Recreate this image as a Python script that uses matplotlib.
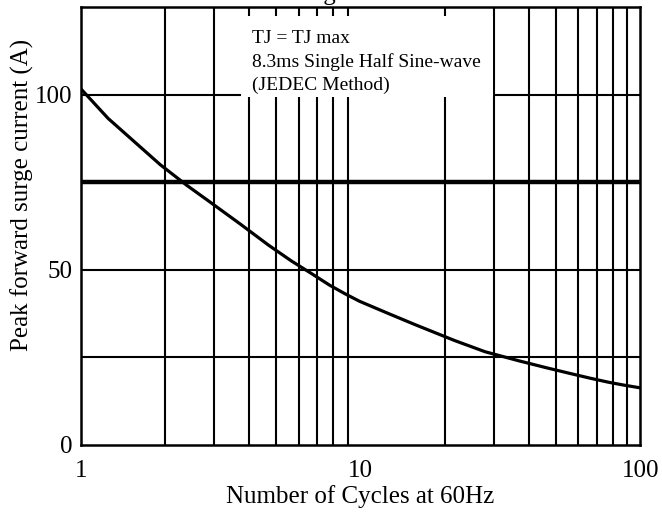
import numpy as np
import matplotlib.pyplot as plt
from matplotlib.patches import Rectangle

# Surge current curve
cycles = [1, 1.25, 1.92, 2.39, 2.84, 3.72, 4.69, 5.66, 6.68, 7.75, 8.82, 9.92,
          12.5, 15.6, 18.8, 21.7, 27.9, 36.9, 46.4, 56.2, 66.7, 77.1, 87.2, 100]
surge_current = [101.6, 93.2, 80.0, 74.1, 69.8, 63.0, 57.0, 52.5, 48.9, 45.6, 43.1, 41.0,
                 37.6, 34.4, 31.8, 29.8, 26.6, 24.0, 22.0, 20.4, 19.0, 17.9, 17.1, 16.3]

x_ticks = [1, 10, 100]
y_ticks = [0, 50, 100]
y_grid = [25, 50, 100]
y_thick = 75
note_lines = ["TJ = TJ max", "8.3ms Single Half Sine-wave", "(JEDEC Method)"]

plt.rcParams['font.family'] = ['Liberation Serif', 'DejaVu Serif']

fig = plt.figure(figsize=(6.62, 5.15), dpi=100)
ax = fig.add_axes([0.1224, 0.136, 0.8446, 0.8504])

ax.set_xscale('log')
ax.set_xlim(1, 100)
ax.set_ylim(0, 125)

# grid: every integer cycle count, plus horizontal lines
for d in [1, 10]:
    for k in range(2, 10):
        ax.axvline(d * k, color='black', lw=1.5, zorder=1)
for yv in y_grid:
    ax.axhline(yv, color='black', lw=1.5, zorder=1)
ax.axhline(y_thick, color='black', lw=3.2, zorder=1)

ax.plot(cycles, surge_current, color='black', lw=2.3, zorder=3)

# white note box over the grid
ax.add_patch(Rectangle((0.286, 0.795), 0.451, 0.185, transform=ax.transAxes,
                       facecolor='white', edgecolor='none', zorder=2))
for i, line in enumerate(note_lines):
    ax.text(0.306, 0.917 - i * 0.053, line, transform=ax.transAxes,
            fontsize=14, va='baseline', ha='left', zorder=4)

ax.set_xticks(x_ticks)
ax.set_xticklabels([str(v) for v in x_ticks])
ax.xaxis.set_minor_locator(plt.NullLocator())
ax.set_yticks(y_ticks)
ax.set_yticklabels([str(v) for v in y_ticks])
ax.tick_params(length=0, labelsize=18)
ax.tick_params(axis='x', pad=11)
ax.tick_params(axis='y', pad=6)

for s in ax.spines.values():
    s.set_linewidth(1.8)

ax.set_xlabel("Number of Cycles at 60Hz", fontsize=18, labelpad=2)
fig.text(0.033, 0.621, "Peak forward surge current (A)", rotation=90,
         fontsize=18, ha='center', va='center')

# title, mostly cut off by the top edge as in the source image
fig.text(0.474, 1.0, "Forward Surge Current", fontsize=18, ha='center', va='baseline')

fig.savefig('out.png', dpi=100)
